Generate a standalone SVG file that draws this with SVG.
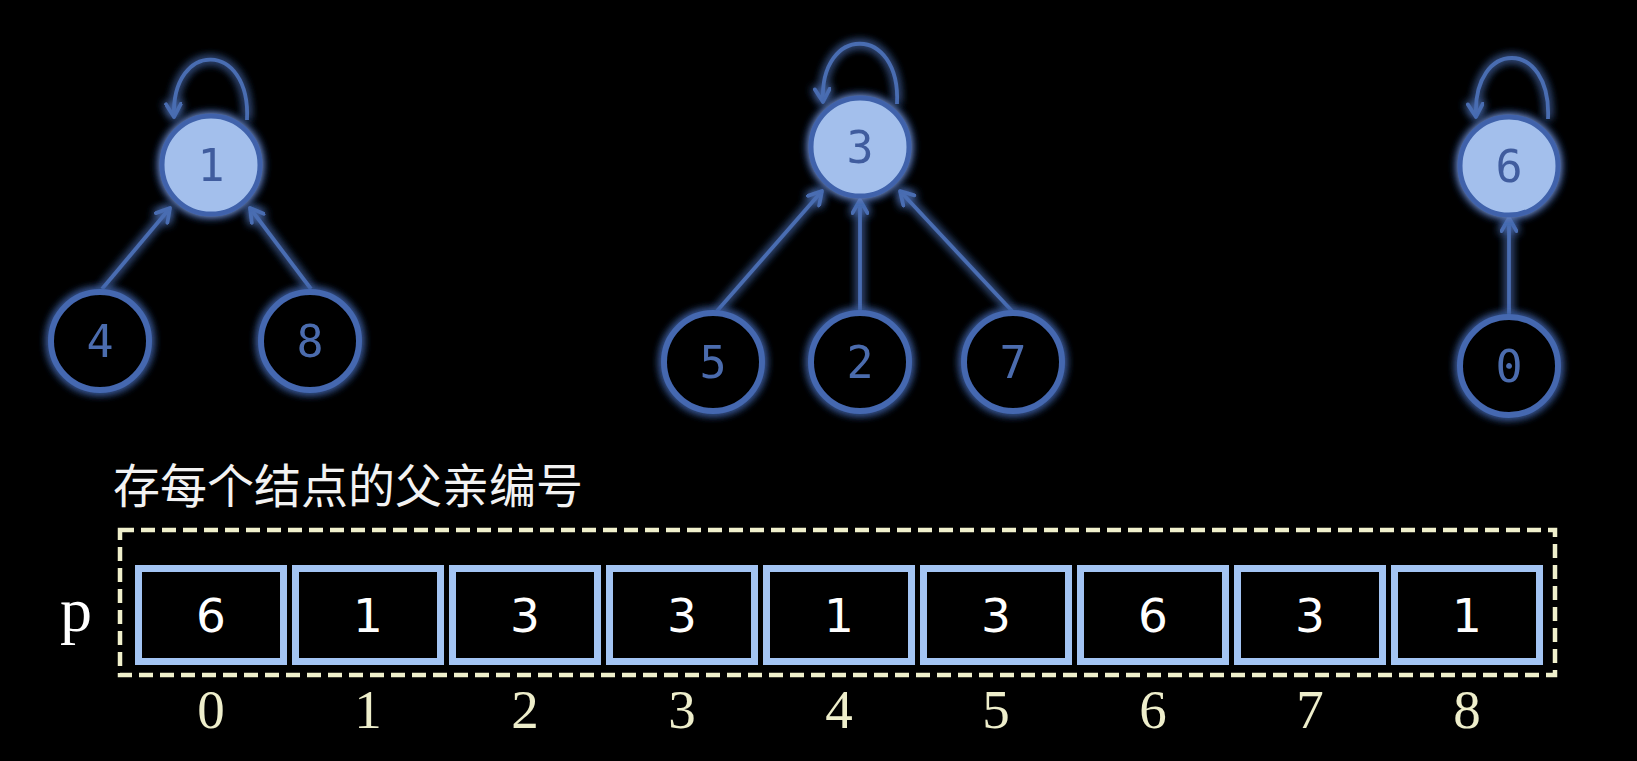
<svg xmlns="http://www.w3.org/2000/svg" width="1637" height="761" viewBox="0 0 1637 761">
  <defs>
    <filter id="glow" x="-30%" y="-30%" width="160%" height="160%">
      <feGaussianBlur in="SourceGraphic" stdDeviation="5" result="b"/>
      <feMerge>
        <feMergeNode in="b"/>
        <feMergeNode in="b"/>
        <feMergeNode in="SourceGraphic"/>
      </feMerge>
    </filter>
    <marker id="arr" viewBox="0 0 18 18" refX="15" refY="9" markerWidth="18" markerHeight="18" markerUnits="userSpaceOnUse" orient="auto">
      <path d="M2,1.5 L15,9 L2,16.5" fill="none" stroke="#4a6db2" stroke-width="3.8" stroke-linecap="round" stroke-linejoin="round"/>
    </marker>
    <style>
      .root circle { fill: #a3bfec; stroke: #3f62ab; stroke-width: 5; }
      .leaf circle { fill: #000; stroke: #4467b0; stroke-width: 6; }
      .nl { font-family: "DejaVu Sans Mono", "Liberation Mono", monospace; font-size: 45px; fill: #3f5c9e; text-anchor: middle; }
      .leaf .nl { fill: #4c6cae; }
      .edge { fill: none; stroke: #4a6db2; stroke-width: 3.8; marker-end: url(#arr); }
      .cell rect { fill: #000; stroke: #a3c4f3; stroke-width: 7; }
      .cv { font-family: "DejaVu Sans", "Liberation Sans", sans-serif; font-size: 47px; fill: #ffffff; text-anchor: middle; }
      .idx { font-family: "Liberation Serif", serif; font-size: 55px; fill: #eeeecb; text-anchor: middle; }
    </style>
  </defs>
  <rect x="0" y="0" width="1637" height="761" fill="#000"/>

  <g id="connectors" filter="url(#glow)">
    <path class="edge" d="M247,120 C251,40 171,40 174,117"/>
    <path class="edge" d="M102,289 L170,208"/>
    <path class="edge" d="M311,289 L250,208"/>
    <path class="edge" d="M897,104 C901,24 819,24 823,102"/>
    <path class="edge" d="M717,311 L822,191"/>
    <path class="edge" d="M860,312 L860,200"/>
    <path class="edge" d="M1012,311 L900,191"/>
    <path class="edge" d="M1548,119 C1552,38 1472,38 1476,117"/>
    <path class="edge" d="M1509,315 L1509,218"/>
  </g>

  <g id="node-1" class="root" filter="url(#glow)">
    <circle cx="211" cy="165" r="49"/>
    <text class="nl" x="211" y="181">1</text>
  </g>
  <g id="node-4" class="leaf" filter="url(#glow)">
    <circle cx="100" cy="341" r="49"/>
    <text class="nl" x="100" y="357">4</text>
  </g>
  <g id="node-8" class="leaf" filter="url(#glow)">
    <circle cx="310" cy="341" r="49"/>
    <text class="nl" x="310" y="357">8</text>
  </g>
  <g id="node-3" class="root" filter="url(#glow)">
    <circle cx="860" cy="147" r="49"/>
    <text class="nl" x="860" y="163">3</text>
  </g>
  <g id="node-5" class="leaf" filter="url(#glow)">
    <circle cx="713" cy="362" r="49"/>
    <text class="nl" x="713" y="378">5</text>
  </g>
  <g id="node-2" class="leaf" filter="url(#glow)">
    <circle cx="860" cy="362" r="49"/>
    <text class="nl" x="860" y="378">2</text>
  </g>
  <g id="node-7" class="leaf" filter="url(#glow)">
    <circle cx="1013" cy="362" r="49"/>
    <text class="nl" x="1013" y="378">7</text>
  </g>
  <g id="node-6" class="root" filter="url(#glow)">
    <circle cx="1509" cy="166" r="49"/>
    <text class="nl" x="1509" y="182">6</text>
  </g>
  <g id="node-0" class="leaf" filter="url(#glow)">
    <circle cx="1509" cy="366" r="49"/>
    <text class="nl" x="1509" y="382">0</text>
  </g>

  <g id="caption">
    <text x="113" y="503" font-family="'Noto Sans CJK SC', sans-serif" font-size="47" fill="#f2f2f2">存每个结点的父亲编号</text>
  </g>

  <g id="array-p">
    <text x="60" y="631" font-family="'Liberation Serif', serif" font-size="64" fill="#ffffff">p</text>
    <rect x="120" y="530" width="1435" height="145" fill="none" stroke="#f0f0cc" stroke-width="4.5" stroke-dasharray="14 7"/>
    <g class="cell" id="cell-0"><rect x="138.5" y="568.5" width="145" height="93"/><text class="cv" x="211" y="632">6</text><text class="idx" x="211" y="728">0</text></g>
    <g class="cell" id="cell-1"><rect x="295.5" y="568.5" width="145" height="93"/><text class="cv" x="368" y="632">1</text><text class="idx" x="368" y="728">1</text></g>
    <g class="cell" id="cell-2"><rect x="452.5" y="568.5" width="145" height="93"/><text class="cv" x="525" y="632">3</text><text class="idx" x="525" y="728">2</text></g>
    <g class="cell" id="cell-3"><rect x="609.5" y="568.5" width="145" height="93"/><text class="cv" x="682" y="632">3</text><text class="idx" x="682" y="728">3</text></g>
    <g class="cell" id="cell-4"><rect x="766.5" y="568.5" width="145" height="93"/><text class="cv" x="839" y="632">1</text><text class="idx" x="839" y="728">4</text></g>
    <g class="cell" id="cell-5"><rect x="923.5" y="568.5" width="145" height="93"/><text class="cv" x="996" y="632">3</text><text class="idx" x="996" y="728">5</text></g>
    <g class="cell" id="cell-6"><rect x="1080.5" y="568.5" width="145" height="93"/><text class="cv" x="1153" y="632">6</text><text class="idx" x="1153" y="728">6</text></g>
    <g class="cell" id="cell-7"><rect x="1237.5" y="568.5" width="145" height="93"/><text class="cv" x="1310" y="632">3</text><text class="idx" x="1310" y="728">7</text></g>
    <g class="cell" id="cell-8"><rect x="1394.5" y="568.5" width="145" height="93"/><text class="cv" x="1467" y="632">1</text><text class="idx" x="1467" y="728">8</text></g>
  </g>
</svg>
